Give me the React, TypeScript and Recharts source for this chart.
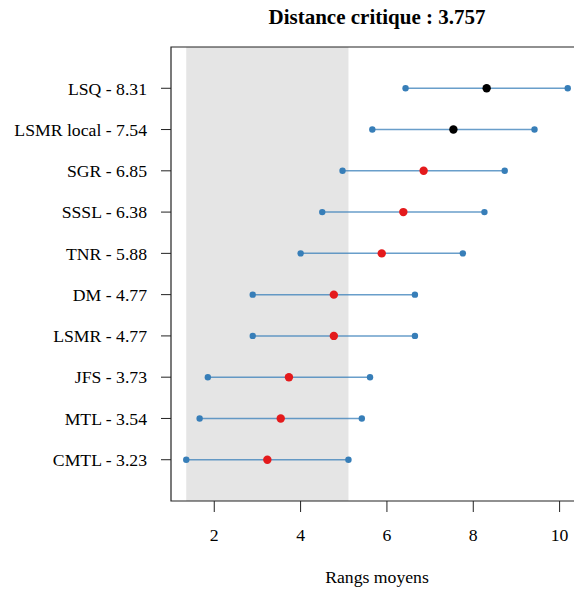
import React from 'react';
import { ScatterChart, Scatter, XAxis, YAxis, ReferenceArea, Label } from 'recharts';

const methods = ['LSQ', 'LSMR local', 'SGR', 'SSSL', 'TNR', 'DM', 'LSMR', 'JFS', 'MTL', 'CMTL'];
const meanRanks = [8.31, 7.54, 6.85, 6.38, 5.88, 4.77, 4.77, 3.73, 3.54, 3.23];
const criticalDistance = 3.757;
const xTicks = [2, 4, 6, 8, 10];

const half = criticalDistance / 2;
const best = Math.min(...meanRanks);
const shadeLo = best - half;
const shadeHi = best + half;

// same 4% padding R uses on its axes
const allX = meanRanks.flatMap((r) => [r - half, r + half]);
const xMin = Math.min(...allX);
const xMax = Math.max(...allX);
const pad = (xMax - xMin) * 0.04;
const xDomain = [xMin - pad, xMax + pad];

const rows = methods.map((name, i) => ({
  name,
  rank: meanRanks[i],
  y: methods.length - i,
  lo: meanRanks[i] - half,
  hi: meanRanks[i] + half,
  color: meanRanks[i] - half > shadeHi ? '#000000' : '#E41A1C',
}));

const yTicks = rows.map((r) => r.y);
const labelFor = (v: number) => {
  const r = rows.find((d) => d.y === v);
  return r ? `${r.name} - ${r.rank.toFixed(2)}` : '';
};

const font = '"Liberation Serif", "Times New Roman", serif';
const BLUE = '#377EB8';

const EndDot = (props: any) => <circle cx={props.cx} cy={props.cy} r={3.2} fill={BLUE} />;
const MidDot = (props: any) => <circle cx={props.cx} cy={props.cy} r={4.2} fill={props.payload.color} />;

export default function App() {
  return (
    <div style={{ position: 'fixed', left: 0, top: 0, width: 574, height: 591, overflow: 'hidden', background: '#fff' }}>
      <svg width={574} height={40} style={{ position: 'absolute', left: 0, top: 0 }}>
        <text x={377} y={23.5} textAnchor="middle" fontFamily={font} fontWeight="bold" fontSize={21} fill="#000">
          Distance critique : 3.757
        </text>
      </svg>
      <div style={{ position: 'absolute', left: 0, top: 0 }}>
        <ScatterChart width={600} height={591} margin={{ top: 47, right: 17, bottom: 0, left: 0 }}>
          <XAxis
            type="number"
            dataKey="x"
            domain={xDomain}
            ticks={xTicks}
            allowDataOverflow
            axisLine={false}
            tickSize={11}
            tickMargin={16}
            tickLine={{ stroke: '#222' }}
            tick={{ fill: '#000', fontSize: 17.7, fontFamily: font }}
            height={90}
          >
            <Label value="Rangs moyens" position="insideBottom" offset={8} fill="#000" fontSize={17.7} fontFamily={font} />
          </XAxis>
          <YAxis
            type="number"
            dataKey="y"
            domain={[0, 11]}
            ticks={yTicks}
            allowDataOverflow
            axisLine={false}
            tickSize={10}
            tickMargin={14}
            tickLine={{ stroke: '#222' }}
            tickFormatter={labelFor}
            tick={{ fill: '#000', fontSize: 17.7, fontFamily: font }}
            width={171}
          />
          <ReferenceArea x1={shadeLo} x2={shadeHi} y1={0} y2={11} fill="#e5e5e5" fillOpacity={1} stroke="none" />
          <ReferenceArea x1={xDomain[0]} x2={xDomain[1]} y1={0} y2={11} fill="none" stroke="#222" strokeWidth={1.2} />
          {rows.map((r) => (
            <Scatter
              key={r.name}
              data={[{ x: r.lo, y: r.y }, { x: r.hi, y: r.y }]}
              line={{ stroke: BLUE, strokeWidth: 1.5, strokeOpacity: 0.75 }}
              shape={EndDot}
              isAnimationActive={false}
            />
          ))}
          <Scatter
            data={rows.map((r) => ({ x: r.rank, y: r.y, color: r.color }))}
            shape={MidDot}
            isAnimationActive={false}
          />
        </ScatterChart>
      </div>
    </div>
  );
}
